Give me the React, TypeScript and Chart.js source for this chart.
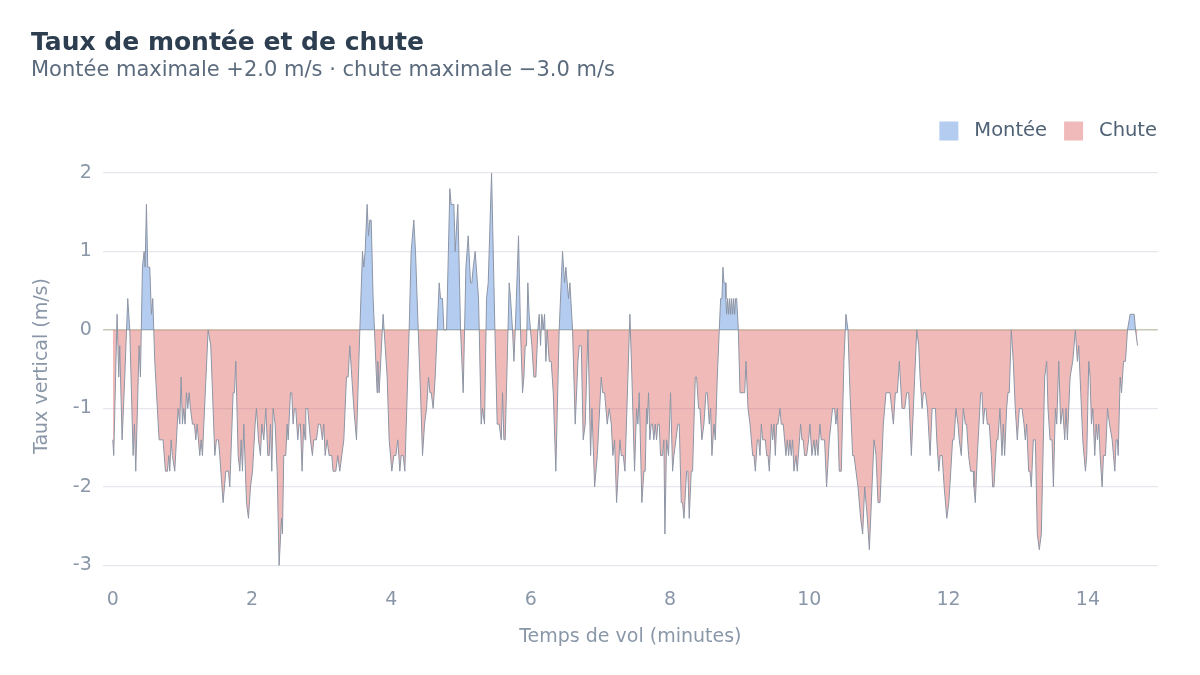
import React, { useEffect, useRef } from "react";
import { Chart, registerables } from "chart.js";

Chart.register(...registerables);

// flight time (minutes) and vertical rate (m/s)
const flightTime = [
  0, 0.014, 0.062, 0.086, 0.1, 0.134, 0.172, 0.215, 0.244, 0.292, 0.311, 0.33, 0.378, 0.397, 0.426, 0.45, 0.464, 0.483,
  0.502, 0.531, 0.555, 0.574, 0.603, 0.665, 0.722, 0.756, 0.785, 0.804, 0.818, 0.838, 0.856, 0.89, 0.938, 0.962, 0.981,
  1.0, 1.019, 1.038, 1.058, 1.077, 1.096, 1.115, 1.144, 1.172, 1.192, 1.211, 1.249, 1.268, 1.287, 1.369, 1.407, 1.465,
  1.488, 1.517, 1.536, 1.584, 1.623, 1.661, 1.68, 1.728, 1.747, 1.766, 1.8, 1.824, 1.843, 1.862, 1.881, 1.92, 1.948,
  1.977, 2.006, 2.044, 2.063, 2.092, 2.12, 2.14, 2.168, 2.197, 2.226, 2.245, 2.264, 2.283, 2.302, 2.331, 2.36, 2.388,
  2.422, 2.436, 2.455, 2.484, 2.503, 2.518, 2.551, 2.57, 2.589, 2.608, 2.627, 2.656, 2.675, 2.694, 2.718, 2.742, 2.761,
  2.771, 2.799, 2.838, 2.866, 2.885, 2.924, 2.953, 2.981, 3.01, 3.029, 3.049, 3.077, 3.106, 3.144, 3.163, 3.202, 3.23,
  3.259, 3.288, 3.317, 3.355, 3.379, 3.403, 3.432, 3.461, 3.499, 3.547, 3.585, 3.604, 3.623, 3.652, 3.671, 3.69, 3.71,
  3.738, 3.757, 3.795, 3.805, 3.824, 3.881, 3.91, 3.939, 3.968, 4.006, 4.035, 4.064, 4.092, 4.121, 4.14, 4.169, 4.193,
  4.255, 4.284, 4.322, 4.346, 4.385, 4.418, 4.447, 4.476, 4.505, 4.533, 4.553, 4.572, 4.6, 4.629, 4.658, 4.686, 4.706,
  4.734, 4.754, 4.792, 4.839, 4.858, 4.897, 4.916, 4.954, 4.993, 5.031, 5.07, 5.103, 5.136, 5.155, 5.175, 5.203, 5.251,
  5.261, 5.289, 5.308, 5.337, 5.366, 5.39, 5.438, 5.486, 5.519, 5.548, 5.577, 5.596, 5.615, 5.634, 5.691, 5.711, 5.739,
  5.759, 5.778, 5.825, 5.854, 5.883, 5.902, 5.921, 5.94, 5.959, 5.978, 5.997, 6.017, 6.045, 6.074, 6.103, 6.122, 6.141,
  6.16, 6.18, 6.199, 6.218, 6.237, 6.266, 6.295, 6.324, 6.361, 6.409, 6.457, 6.486, 6.505, 6.543, 6.563, 6.601, 6.639,
  6.678, 6.697, 6.726, 6.754, 6.783, 6.822, 6.86, 6.879, 6.918, 6.956, 7.013, 7.033, 7.061, 7.099, 7.128, 7.157, 7.18,
  7.204, 7.233, 7.281, 7.3, 7.329, 7.353, 7.424, 7.453, 7.491, 7.52, 7.539, 7.558, 7.596, 7.625, 7.644, 7.663, 7.673,
  7.692, 7.711, 7.73, 7.749, 7.768, 7.788, 7.807, 7.826, 7.845, 7.864, 7.893, 7.912, 7.927, 7.951, 7.979, 8.008, 8.037,
  8.056, 8.085, 8.113, 8.133, 8.161, 8.18, 8.2, 8.238, 8.257, 8.276, 8.305, 8.324, 8.363, 8.382, 8.41, 8.43, 8.458,
  8.487, 8.516, 8.535, 8.564, 8.583, 8.602, 8.631, 8.65, 8.679, 8.707, 8.727, 8.746, 8.76, 8.775, 8.794, 8.803, 8.813,
  8.827, 8.842, 8.856, 8.87, 8.885, 8.899, 8.914, 8.928, 8.942, 8.957, 8.981, 9.005, 9.034, 9.072, 9.091, 9.12, 9.149,
  9.187, 9.206, 9.225, 9.254, 9.273, 9.292, 9.311, 9.33, 9.369, 9.388, 9.407, 9.426, 9.455, 9.474, 9.493, 9.512, 9.531,
  9.55, 9.579, 9.597, 9.626, 9.664, 9.684, 9.703, 9.722, 9.741, 9.76, 9.779, 9.808, 9.827, 9.875, 9.894, 9.913, 9.932,
  9.961, 9.99, 10.009, 10.037, 10.066, 10.085, 10.104, 10.124, 10.152, 10.171, 10.219, 10.248, 10.287, 10.334, 10.363,
  10.382, 10.402, 10.43, 10.459, 10.497, 10.526, 10.555, 10.584, 10.622, 10.641, 10.67, 10.699, 10.737, 10.766, 10.795,
  10.833, 10.862, 10.9, 10.929, 10.958, 10.986, 11.015, 11.063, 11.101, 11.159, 11.207, 11.236, 11.264, 11.293, 11.331,
  11.37, 11.398, 11.427, 11.465, 11.494, 11.542, 11.571, 11.59, 11.619, 11.638, 11.667, 11.696, 11.734, 11.763, 11.782,
  11.811, 11.83, 11.859, 11.878, 11.907, 11.936, 11.974, 12.003, 12.031, 12.057, 12.077, 12.105, 12.134, 12.153, 12.182,
  12.211, 12.24, 12.258, 12.287, 12.316, 12.354, 12.364, 12.383, 12.412, 12.46, 12.479, 12.498, 12.517, 12.536, 12.555,
  12.584, 12.613, 12.632, 12.651, 12.689, 12.708, 12.737, 12.766, 12.785, 12.804, 12.833, 12.852, 12.871, 12.9, 12.928,
  12.957, 12.986, 13.015, 13.053, 13.082, 13.101, 13.12, 13.149, 13.168, 13.187, 13.216, 13.245, 13.273, 13.302, 13.331,
  13.379, 13.408, 13.427, 13.456, 13.485, 13.504, 13.533, 13.552, 13.581, 13.609, 13.638, 13.667, 13.686, 13.705, 13.744,
  13.782, 13.82, 13.849, 13.868, 13.897, 13.926, 13.964, 13.983, 14.012, 14.031, 14.05, 14.07, 14.098, 14.118, 14.137,
  14.156, 14.175, 14.204, 14.223, 14.252, 14.281, 14.31, 14.348, 14.367, 14.386, 14.405, 14.424, 14.434, 14.463, 14.482,
  14.511, 14.539, 14.568, 14.606, 14.664, 14.683, 14.712,
];

const verticalRate = [
  -1.4, -1.6, 0.2, -0.6, -0.2, -1.4, -0.6, 0.4, 0, -1.6, -1.2, -1.8, -0.2, -0.6, 0.8, 1.0, 0.8, 1.6,
  0.8, 0.8, 0.2, 0.4, -0.4, -1.4, -1.4, -1.8, -1.8, -1.6, -1.8, -1.4, -1.6, -1.8, -1.0, -1.2, -0.6,
  -1.2, -1.0, -1.2, -0.8, -1.0, -0.8, -1.0, -1.2, -1.2, -1.4, -1.2, -1.6, -1.4, -1.6, 0, -0.2, -1.6,
  -1.4, -1.4, -1.6, -2.2, -1.8, -1.8, -2.0, -0.8, -0.8, -0.4, -1.6, -1.8, -1.4, -1.8, -1.2, -2.2, -2.4,
  -2.0, -1.8, -1.2, -1.0, -1.4, -1.6, -1.2, -1.4, -1.0, -1.6, -1.6, -1.2, -1.8, -1.0, -1.2, -1.8, -3.0,
  -2.4, -2.6, -1.6, -1.6, -1.2, -1.4, -0.8, -0.8, -1.2, -1.0, -1.0, -1.4, -1.2, -1.2, -1.8, -1.2, -1.4,
  -1.0, -1.0, -1.4, -1.6, -1.4, -1.4, -1.2, -1.2, -1.4, -1.2, -1.6, -1.4, -1.6, -1.6, -1.8, -1.8, -1.6,
  -1.8, -1.6, -1.4, -0.6, -0.6, -0.2, -0.6, -1.0, -1.4, 0, 1.0, 0.8, 1.0, 1.6, 1.2, 1.4, 1.4,
  0.4, 0, -0.8, -0.4, -0.8, 0.2, -0.2, -0.6, -1.4, -1.8, -1.6, -1.6, -1.4, -1.8, -1.6, -1.6, -1.8,
  0, 1.0, 1.4, 1.0, 0, -0.8, -1.6, -1.2, -1.0, -0.6, -0.8, -0.8, -1.0, -0.6, 0, 0.6, 0.4,
  0.4, 0, 0, 1.8, 1.6, 1.6, 1.0, 1.6, 0, -0.8, 0.8, 1.2, 0.6, 0.6, 0.8, 1.0, 0.4,
  0, -1.2, -1.0, -1.2, 0.4, 0.6, 2.0, 0, -1.2, -1.2, -1.4, -0.8, -1.4, -1.4, 0.6, 0.4, 0,
  -0.4, 0, 1.2, 0, -0.8, -0.6, -0.2, -0.2, 0.6, 0.2, 0, -0.2, -0.6, -0.6, 0, 0.2, -0.2,
  0.2, 0, 0.2, -0.4, 0, -0.4, -0.4, -0.8, -1.8, 0, 1.0, 0.6, 0.8, 0.4, 0.6, 0, -1.2,
  -0.4, -0.2, -0.2, -1.4, -1.2, 0, -1.6, -1.0, -2.0, -1.6, -0.6, -0.8, -0.8, -1.2, -1.0, -1.2, -1.6,
  -1.4, -2.2, -1.4, -1.6, -1.6, -1.8, 0.2, -0.6, -1.8, -1.0, -1.2, -0.8, -2.2, -1.8, -1.8, -1.0, -1.2,
  -0.8, -1.4, -1.2, -1.2, -1.4, -1.2, -1.4, -1.2, -1.2, -1.6, -1.6, -1.4, -2.6, -1.4, -1.6, -0.8, -1.8,
  -1.6, -1.4, -1.2, -1.2, -2.2, -2.2, -2.4, -1.8, -1.8, -2.4, -1.8, -1.8, -0.6, -0.6, -1.0, -1.0, -1.4,
  -1.2, -0.8, -0.8, -1.2, -1.0, -1.6, -1.2, -1.4, -0.6, 0, 0.4, 0.4, 0.8, 0.6, 0.6, 0.4, 0.2,
  0.4, 0.2, 0.4, 0.2, 0.4, 0.2, 0.4, 0.2, 0.4, 0.4, 0, -0.8, -0.8, -0.8, -0.4, -1.0, -1.2,
  -1.6, -1.6, -1.8, -1.4, -1.4, -1.6, -1.2, -1.4, -1.4, -1.6, -1.6, -1.8, -1.2, -1.4, -1.2, -1.6, -1.2,
  -1.2, -1.0, -1.2, -1.2, -1.6, -1.4, -1.6, -1.4, -1.6, -1.4, -1.8, -1.6, -1.8, -1.2, -1.4, -1.4, -1.6,
  -1.6, -1.4, -1.2, -1.6, -1.4, -1.6, -1.4, -1.6, -1.2, -1.4, -1.4, -2.0, -1.4, -1.0, -1.0,
  -1.2, -1.0, -1.8, -1.8, -0.4, 0.2, 0, -0.8, -1.6, -1.6, -1.8, -2.0, -2.4, -2.6, -2.0,
  -2.4, -2.8, -2.0, -1.4, -1.6, -2.2, -2.2, -1.2, -0.8, -0.8, -1.2, -0.8, -0.8, -0.4, -1.0,
  -1.0, -0.8, -0.8, -1.6, -1.0, 0, -0.2, -0.6, -1.0, -0.8, -0.8, -1.0, -1.6, -1.0, -1.0,
  -1.0, -1.4, -1.8, -1.6, -1.6, -2.0, -2.4, -2.2, -1.8, -1.4, -1.4, -1.0, -1.2, -1.4, -1.6,
  -1.0, -1.2, -1.2, -1.6, -1.8, -1.8, -2.0, -2.2, -1.6, -0.8, -0.8, -1.2, -1.0, -1.0, -1.2,
  -1.2, -1.6, -2.0, -2.0, -1.4, -1.4, -1.0, -1.6, -1.2, -1.6, -1.0, -0.8, -0.8, 0, -0.4,
  -1.0, -1.4, -1.0, -1.0, -1.2, -1.4, -1.2, -1.8, -1.8, -2.0, -1.4, -1.4, -2.6, -2.8, -2.6,
  -0.6, -0.4, -1.0, -1.4, -1.4, -2.0, -1.0, -1.2, -0.4, -1.2, -1.0, -1.4, -1.0, -1.4, -0.6,
  -0.4, 0, -0.4, -0.2, -0.8, -1.4, -1.8, -1.6, -0.4, -0.6, -1.2, -1.0, -1.6, -1.2, -1.4,
  -1.2, -1.6, -2.0, -1.6, -1.6, -1.0, -1.2, -1.4, -1.6, -1.8, -1.4, -1.4, -1.6, -0.6, -0.8,
  -0.4, -0.4, 0, 0.2, 0.2, 0, -0.2,
];

const xTicks = [0, 2, 4, 6, 8, 10, 12, 14];
const yTicks = [-3, -2, -1, 0, 1, 2];
const legendNames = ["Montée", "Chute"];

const FONT = "'DejaVu Sans', sans-serif";
const UP_FILL = "rgba(74, 134, 216, 0.42)";
const DOWN_FILL = "rgba(217, 83, 79, 0.40)";
const LEGEND_SWATCH = ["#b3ccef", "#f0baba"];
const LINE = "#8d95a5";
const AXIS_TEXT = "#8a97a8";
const LEGEND_TEXT = "#4f6175";

export default function App() {
  const canvasRef = useRef<HTMLCanvasElement>(null);

  useEffect(() => {
    document.body.style.margin = "0";
    const ctx = canvasRef.current?.getContext("2d");
    if (!ctx) return;

    const points = flightTime.map((t, i) => ({ x: t, y: verticalRate[i] }));

    const chart = new Chart(ctx, {
      type: "line",
      data: {
        datasets: [
          {
            label: "Taux vertical",
            data: points,
            borderColor: LINE,
            borderWidth: 1,
            pointRadius: 0,
            tension: 0,
            fill: { target: "origin", above: UP_FILL, below: DOWN_FILL },
          },
        ],
      },
      options: {
        animation: false,
        responsive: true,
        maintainAspectRatio: false,
        layout: { padding: { left: 31, right: 26, top: 28, bottom: 27 } },
        plugins: {
          title: {
            display: true,
            text: "Taux de montée et de chute",
            align: "start",
            color: "#2c3e50",
            font: { family: FONT, size: 25, weight: "bold" },
            padding: { top: 0, bottom: 0 },
          },
          subtitle: {
            display: true,
            text: "Montée maximale +2.0 m/s · chute maximale −3.0 m/s",
            align: "start",
            color: "#5b6b7d",
            font: { family: FONT, size: 21 },
            padding: { top: 0, bottom: 21 },
          },
          legend: {
            position: "top",
            align: "end",
            labels: {
              boxWidth: 19,
              boxHeight: 19,
              padding: 17,
              color: LEGEND_TEXT,
              font: { family: FONT, size: 19.5 },
              // a leading space widens the gap between swatch and label
              generateLabels: () =>
                legendNames.map((name, i) => ({
                  text: " " + name,
                  fillStyle: LEGEND_SWATCH[i],
                  strokeStyle: "rgba(0,0,0,0)",
                  fontColor: LEGEND_TEXT,
                  lineWidth: 0,
                  hidden: false,
                  datasetIndex: 0,
                })),
            },
          },
          tooltip: { enabled: false },
        },
        scales: {
          x: {
            type: "linear",
            min: -0.144,
            max: 15.006,
            afterBuildTicks: (s: any) => {
              s.ticks = xTicks.map((v) => ({ value: v }));
            },
            grid: { display: false, drawTicks: false },
            border: { display: false },
            ticks: {
              color: AXIS_TEXT,
              font: { family: FONT, size: 19 },
              padding: 7.5,
              maxRotation: 0,
              callback: (v: any) => String(v),
            },
            title: {
              display: true,
              text: "Temps de vol (minutes)",
              color: AXIS_TEXT,
              font: { family: FONT, size: 19 },
              padding: { top: 6, bottom: 0 },
            },
          },
          y: {
            type: "linear",
            min: -3.204,
            max: 2.284,
            afterBuildTicks: (s: any) => {
              s.ticks = yTicks.map((v) => ({ value: v }));
            },
            grid: {
              drawTicks: false,
              color: (c: any) => (c.tick && c.tick.value === 0 ? "#c9c8b4" : "#e6e8ee"),
              lineWidth: (c: any) => (c.tick && c.tick.value === 0 ? 1.6 : 1.2),
            },
            border: { display: false },
            ticks: {
              color: AXIS_TEXT,
              font: { family: FONT, size: 19 },
              padding: 11,
              callback: (v: any) => String(v),
            },
            title: {
              display: true,
              text: "Taux vertical (m/s)",
              color: AXIS_TEXT,
              font: { family: FONT, size: 19 },
              padding: { top: 0, bottom: 8 },
            },
          },
          // empty right axis just to keep the plot off the legend's right edge
          yRight: {
            type: "linear",
            position: "right",
            grid: { display: false, drawTicks: false },
            border: { display: false },
            ticks: { display: false },
            afterFit: (s: any) => {
              s.width = 16;
            },
          },
        },
      },
    });

    return () => chart.destroy();
  }, []);

  return (
    <div style={{ width: 1200, height: 675, position: "relative" }}>
      <canvas ref={canvasRef}></canvas>
    </div>
  );
}
